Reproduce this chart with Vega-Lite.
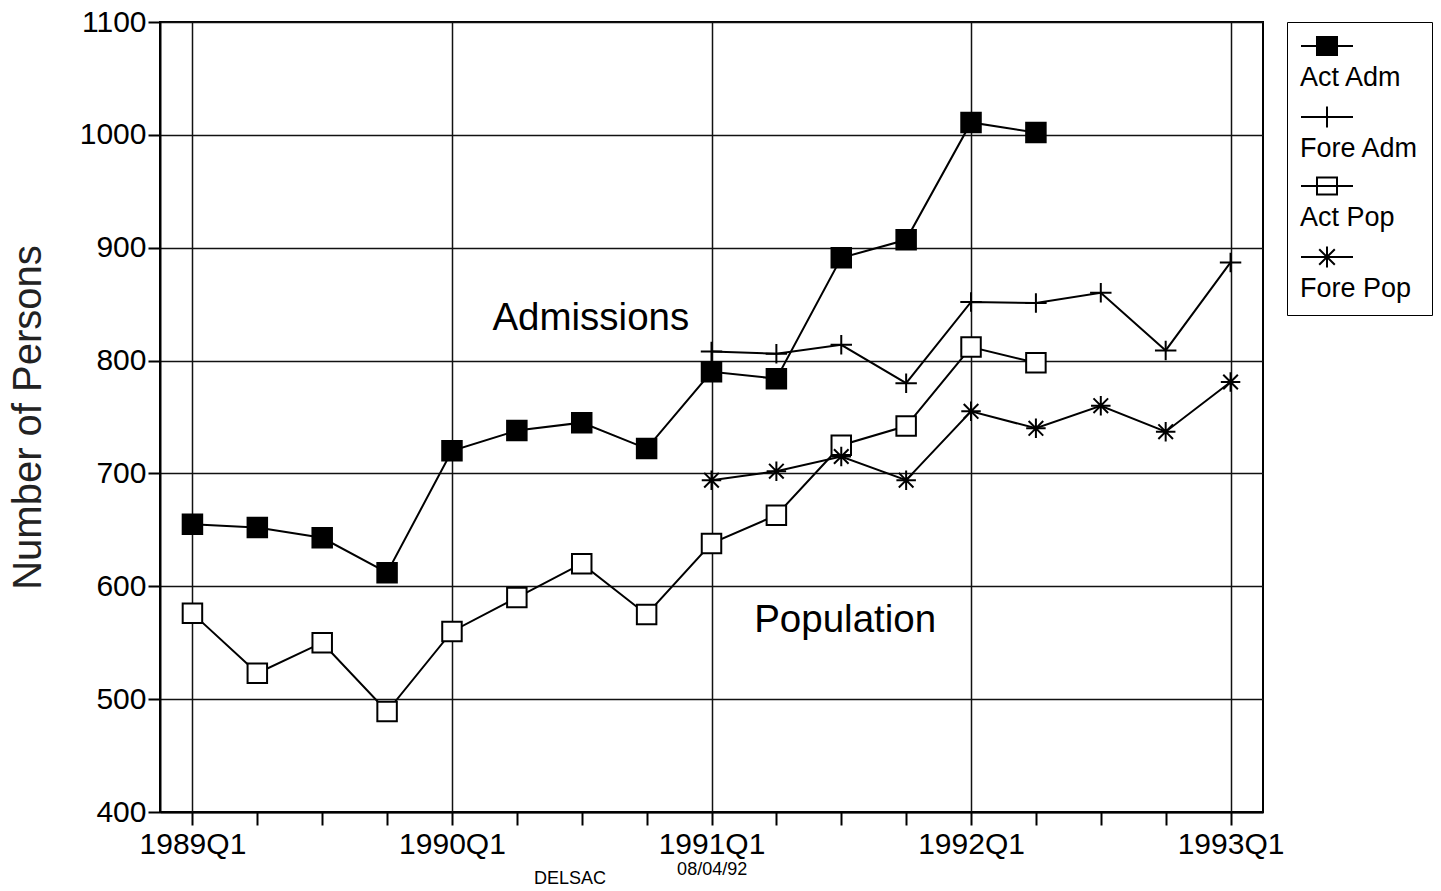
{
  "$schema": "https://vega.github.io/schema/vega-lite/v6.json",
  "width": 1103,
  "height": 790,
  "padding": {"left": 8, "top": 7, "right": 5, "bottom": 3},
  "background": "white",
  "config": {
    "font": "Liberation Sans",
    "view": {"stroke": "black", "strokeWidth": 2},
    "axis": {
      "labelFont": "Liberation Sans",
      "labelColor": "black",
      "labelFontSize": 30,
      "domainColor": "black",
      "domainWidth": 2,
      "tickColor": "black",
      "tickWidth": 2,
      "gridColor": "#111111",
      "gridWidth": 1.5,
      "gridOpacity": 1,
      "labelOverlap": false,
      "labelBound": false,
      "labelFlush": false
    }
  },
  "data": {
    "values": [
      {"q": 0, "series": "Act Adm", "value": 655},
      {"q": 1, "series": "Act Adm", "value": 652},
      {"q": 2, "series": "Act Adm", "value": 643},
      {"q": 3, "series": "Act Adm", "value": 612},
      {"q": 4, "series": "Act Adm", "value": 720},
      {"q": 5, "series": "Act Adm", "value": 738},
      {"q": 6, "series": "Act Adm", "value": 745},
      {"q": 7, "series": "Act Adm", "value": 722},
      {"q": 8, "series": "Act Adm", "value": 790},
      {"q": 9, "series": "Act Adm", "value": 784},
      {"q": 10, "series": "Act Adm", "value": 891},
      {"q": 11, "series": "Act Adm", "value": 907},
      {"q": 12, "series": "Act Adm", "value": 1011},
      {"q": 13, "series": "Act Adm", "value": 1002},
      {"q": 8, "series": "Fore Adm", "value": 808},
      {"q": 9, "series": "Fore Adm", "value": 806},
      {"q": 10, "series": "Fore Adm", "value": 814},
      {"q": 11, "series": "Fore Adm", "value": 780},
      {"q": 12, "series": "Fore Adm", "value": 852},
      {"q": 13, "series": "Fore Adm", "value": 851},
      {"q": 14, "series": "Fore Adm", "value": 860},
      {"q": 15, "series": "Fore Adm", "value": 809},
      {"q": 16, "series": "Fore Adm", "value": 887},
      {"q": 0, "series": "Act Pop", "value": 576},
      {"q": 1, "series": "Act Pop", "value": 523},
      {"q": 2, "series": "Act Pop", "value": 550},
      {"q": 3, "series": "Act Pop", "value": 489},
      {"q": 4, "series": "Act Pop", "value": 560},
      {"q": 5, "series": "Act Pop", "value": 590},
      {"q": 6, "series": "Act Pop", "value": 620},
      {"q": 7, "series": "Act Pop", "value": 575},
      {"q": 8, "series": "Act Pop", "value": 638},
      {"q": 9, "series": "Act Pop", "value": 663},
      {"q": 10, "series": "Act Pop", "value": 725},
      {"q": 11, "series": "Act Pop", "value": 742},
      {"q": 12, "series": "Act Pop", "value": 812},
      {"q": 13, "series": "Act Pop", "value": 798},
      {"q": 8, "series": "Fore Pop", "value": 694},
      {"q": 9, "series": "Fore Pop", "value": 702},
      {"q": 10, "series": "Fore Pop", "value": 715},
      {"q": 11, "series": "Fore Pop", "value": 694},
      {"q": 12, "series": "Fore Pop", "value": 755},
      {"q": 13, "series": "Fore Pop", "value": 740},
      {"q": 14, "series": "Fore Pop", "value": 760},
      {"q": 15, "series": "Fore Pop", "value": 737},
      {"q": 16, "series": "Fore Pop", "value": 781}
    ]
  },
  "encoding": {
    "x": {
      "field": "q",
      "type": "quantitative",
      "scale": {"domain": [-0.5, 16.5], "nice": false, "zero": false},
      "axis": {
        "title": null,
        "values": [0, 1, 2, 3, 4, 5, 6, 7, 8, 9, 10, 11, 12, 13, 14, 15, 16],
        "labelExpr": "datum.value % 4 === 0 ? (1989 + datum.value / 4) + 'Q1' : ''",
        "tickSize": 13,
        "labelPadding": 4,
        "grid": true,
        "gridOpacity": {"condition": {"test": "datum.value % 4 === 0", "value": 1}, "value": 0}
      }
    },
    "y": {
      "field": "value",
      "type": "quantitative",
      "scale": {"domain": [400, 1100], "nice": false, "zero": false},
      "axis": {
        "title": "Number of Persons",
        "titleFont": "Liberation Sans",
        "titleFontSize": 40,
        "titleFontWeight": "normal",
        "titleColor": "#222222",
        "titlePadding": 31,
        "format": "d",
        "values": [400, 500, 600, 700, 800, 900, 1000, 1100],
        "tickSize": 12,
        "labelPadding": 2,
        "grid": true
      }
    }
  },
  "layer": [
    {
      "mark": {"type": "line", "strokeWidth": 2},
      "encoding": {
        "color": {
          "field": "series",
          "type": "nominal",
          "scale": {
            "domain": ["Act Adm", "Fore Adm", "Act Pop", "Fore Pop"],
            "range": ["black", "black", "black", "black"]
          },
          "legend": {
            "title": null,
            "orient": "right",
            "offset": 24,
            "padding": 13,
            "strokeColor": "black",
            "fillColor": "white",
            "labelFont": "Liberation Sans",
            "labelFontSize": 27,
            "labelColor": "black",
            "labelLimit": 300,
            "symbolSize": 2704,
            "symbolStrokeWidth": 2,
            "rowPadding": 11,
            "encoding": {
              "symbols": {
                "shape": {
                  "condition": [
                    {"test": "datum.value === 'Act Adm'", "value": "M-1,0H1M-0.385,-0.35H0.385V0.35H-0.385Z"},
                    {"test": "datum.value === 'Fore Adm'", "value": "M-1,0H1M0,-0.4V0.4"},
                    {"test": "datum.value === 'Act Pop'", "value": "M-1,0H1M-0.385,-0.33H0.385V0.33H-0.385Z"}
                  ],
                  "value": "M-1,0H1M0,-0.4V0.4M-0.3,-0.3L0.3,0.3M-0.3,0.3L0.3,-0.3"
                },
                "fill": {
                  "condition": [
                    {"test": "datum.value === 'Act Adm'", "value": "black"},
                    {"test": "datum.value === 'Act Pop'", "value": "white"}
                  ],
                  "value": "transparent"
                },
                "size": {"value": 2704},
                "y": {"value": 11},
                "strokeWidth": {"value": 2},
                "opacity": {"value": 1}
              },
              "labels": {
                "dx": {"value": -58},
                "dy": {"value": 16}
              }
            }
          }
        }
      }
    },
    {
      "mark": {"type": "point", "stroke": "black", "strokeWidth": 2, "size": 380, "opacity": 1},
      "encoding": {
        "shape": {
          "field": "series",
          "type": "nominal",
          "scale": {
            "range": ["square", "square", "M-1.1,0H1.1M0,-1V1", "M-1,0H1M0,-1V1M-0.75,-0.75L0.75,0.75M-0.75,0.75L0.75,-0.75"]
          },
          "legend": null
        },
        "fill": {
          "field": "series",
          "type": "nominal",
          "scale": {
            "range": ["black", "white", "transparent", "transparent"]
          },
          "legend": null
        }
      }
    },
    {
      "data": {"values": [{"label": "Admissions", "q": 6.14, "value": 838}, {"label": "Population", "q": 10.06, "value": 570}]},
      "mark": {"type": "text", "fontSize": 38.5, "color": "black", "font": "Liberation Sans", "baseline": "middle", "align": "center"},
      "encoding": {"text": {"field": "label"}}
    },
    {
      "data": {"values": [{"label": "DELSAC", "q": 5.82, "value": 341}, {"label": "08/04/92", "q": 8.01, "value": 348.5}]},
      "mark": {"type": "text", "fontSize": 18, "color": "black", "font": "Liberation Sans", "baseline": "middle", "align": "center"},
      "encoding": {"text": {"field": "label"}}
    }
  ]
}
